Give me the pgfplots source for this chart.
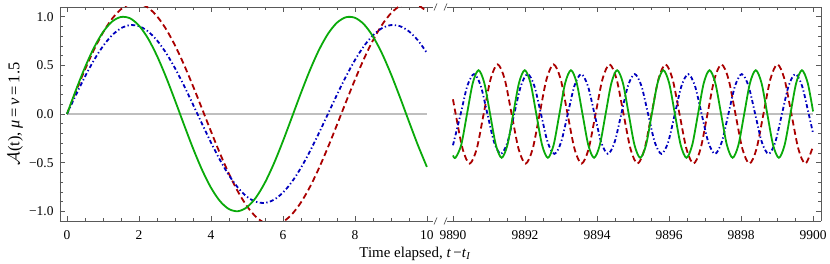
\documentclass[border=0pt]{standalone}
\usepackage{fontspec}
\setmainfont{Liberation Serif}
\usepackage{pgfplots}
\pgfplotsset{compat=1.18}
\definecolor{cR}{RGB}{170,0,0}
\definecolor{cB}{RGB}{0,0,190}
\definecolor{cG}{RGB}{10,170,10}
\pgfplotsset{
  brk/.style={
    scale only axis, height=214bp,
    ymin=-1.1, ymax=1.1,
    axis x line*=box,
    axis line style={-, black!65, line width=0.7bp},
    every outer x axis line/.append style={-},
    every outer y axis line/.append style={-},
    every inner x axis line/.append style={-},
    every inner y axis line/.append style={-},
    tick align=inside,
    tick style={black!65, line width=0.6bp},
    major tick length=5bp, minor tick length=3bp,
    minor x tick num=3, minor y tick num=4,
    ytick={-1,-0.5,0,0.5,1},
    tick label style={font=\fontsize{13.5}{15}\selectfont},
    label style={font=\fontsize{15}{17}\selectfont},
    xticklabel style={yshift=-6bp},
  },
  gline/.style={cG, line width=1.8bp, smooth},
  rline/.style={cR, line width=1.8bp, smooth, dash pattern=on 6bp off 3.5bp},
  bline/.style={cB, line width=1.8bp, smooth, dash pattern=on 4bp off 2.5bp on 1.3bp off 2.5bp},
  zline/.style={black!25, line width=1.2bp},
}
\begin{document}
\begin{tikzpicture}
\begin{axis}[brk, name=L, at={(0bp,0bp)}, anchor=south west, width=373bp,
  xmin=-0.194, xmax=10.17, axis y line*=left,
  xtick={0,2,4,6,8,10}, xticklabels={0,2,4,6,8,10},
  yticklabels={−1.0,−0.5,0.0,0.5,1.0}, yticklabel style={xshift=-3bp},
  ylabel={$\mathcal{A}$(t), \textit{μ}\,=\,\textit{ν}\,=\,1.5},
  ylabel style={at={(axis description cs:-0.12,0.5)}, anchor=center, font=\fontsize{16.5}{18}\selectfont},
  xlabel={Time elapsed, \textit{t}\,−\textit{t}\textsubscript{\textit{I}}},
  xlabel style={at={(axis description cs:0.952,-0.172)}, anchor=base},
]
\addplot[zline] coordinates {(0,0) (10,0)};
\addplot[rline] coordinates {(0,0) (0.25,0.2334) (0.5,0.4568) (0.75,0.6609) (1,0.8370) (1.25,0.9777) (1.5,1.0769) (1.75,1.1307) (2,1.1365) (2.25,1.0942) (2.5,1.0056) (2.75,0.8744) (3,0.7062) (3.25,0.5081) (3.5,0.2884) (3.75,0.0566) (4,-0.1776) (4.25,-0.4044) (4.5,-0.6140) (4.75,-0.7976) (5,-0.9474) (5.25,-1.0571) (5.5,-1.1221) (5.75,-1.1395) (6,-1.1088) (6.25,-1.0310) (6.5,-0.9097) (6.75,-0.7498) (7,-0.5581) (7.25,-0.3429) (7.5,-0.1131) (7.75,0.1215) (8,0.3509) (8.25,0.5655) (8.5,0.7561) (8.75,0.9147) (9,1.0346) (9.25,1.1107) (9.5,1.1397) (9.75,1.1206) (10,1.0539)};
\addplot[bline] coordinates {(0,0) (0.25,0.1967) (0.5,0.3842) (0.75,0.5537) (1,0.6974) (1.25,0.8084) (1.5,0.8817) (1.75,0.9136) (2,0.9029) (2.25,0.8500) (2.5,0.7573) (2.75,0.6292) (3,0.4718) (3.25,0.2921) (3.5,0.0989) (3.75,-0.0989) (4,-0.2921) (4.25,-0.4718) (4.5,-0.6292) (4.75,-0.7573) (5,-0.8500) (5.25,-0.9029) (5.5,-0.9136) (5.75,-0.8817) (6,-0.8084) (6.25,-0.6974) (6.5,-0.5537) (6.75,-0.3842) (7,-0.1967) (7.25,0) (7.5,0.1967) (7.75,0.3842) (8,0.5537) (8.25,0.6974) (8.5,0.8084) (8.75,0.8817) (9,0.9136) (9.25,0.9029) (9.5,0.8500) (9.75,0.7573) (10,0.6292)};
\addplot[gline] coordinates {(0,0) (0.25,0.2474) (0.5,0.4794) (0.75,0.6816) (1,0.8415) (1.25,0.9490) (1.5,0.9975) (1.75,0.9840) (2,0.9093) (2.25,0.7781) (2.5,0.5985) (2.75,0.3817) (3,0.1411) (3.25,-0.1082) (3.5,-0.3508) (3.75,-0.5716) (4,-0.7568) (4.25,-0.8950) (4.5,-0.9775) (4.75,-0.9993) (5,-0.9589) (5.25,-0.8589) (5.5,-0.7055) (5.75,-0.5083) (6,-0.2794) (6.25,-0.0332) (6.5,0.2151) (6.75,0.4500) (7,0.6570) (7.25,0.8231) (7.5,0.9380) (7.75,0.9946) (8,0.9894) (8.25,0.9228) (8.5,0.7985) (8.75,0.6247) (9,0.4121) (9.25,0.1743) (9.5,-0.0752) (9.75,-0.3195) (10,-0.5440)};
\end{axis}
\begin{axis}[brk, name=R, at={(386.5bp,0bp)}, anchor=south west, width=374.5bp,
  xmin=-0.18, xmax=10.22, axis y line*=right,
  xtick={0,2,4,6,8,10}, xticklabels={9890,9892,9894,9896,9898,9900},
  yticklabels={},
]
\addplot[zline] coordinates {(0,0) (10,0)};
\addplot[rline] coordinates {(0,0.151) (0.0745,0) (0.2688,-0.3606) (0.4630,-0.51) (0.6573,-0.3606) (0.8515,0) (1.0458,0.3606) (1.2400,0.51) (1.4343,0.3606) (1.6285,0) (1.8228,-0.3606) (2.0170,-0.51) (2.2113,-0.3606) (2.4055,0) (2.5998,0.3606) (2.7940,0.51) (2.9883,0.3606) (3.1825,0) (3.3768,-0.3606) (3.5710,-0.51) (3.7653,-0.3606) (3.9595,0) (4.1538,0.3606) (4.3480,0.51) (4.5423,0.3606) (4.7365,0) (4.9308,-0.3606) (5.1250,-0.51) (5.3193,-0.3606) (5.5135,0) (5.7078,0.3606) (5.9020,0.51) (6.0963,0.3606) (6.2905,0) (6.4848,-0.3606) (6.6790,-0.51) (6.8733,-0.3606) (7.0675,0) (7.2618,0.3606) (7.4560,0.51) (7.6503,0.3606) (7.8445,0) (8.0388,-0.3606) (8.2330,-0.51) (8.4273,-0.3606) (8.6215,0) (8.8158,0.3606) (9.0100,0.51) (9.2043,0.3606) (9.3985,0) (9.5928,-0.3606) (9.7870,-0.51) (10,-0.3315)};
\addplot[bline] coordinates {(0,-0.3214) (0.2133,0) (0.3991,0.2899) (0.5850,0.41) (0.7709,0.2899) (0.9568,0) (1.1426,-0.2899) (1.3285,-0.41) (1.5144,-0.2899) (1.7003,0) (1.8861,0.2899) (2.0720,0.41) (2.2579,0.2899) (2.4438,0) (2.6296,-0.2899) (2.8155,-0.41) (3.0014,-0.2899) (3.1873,0) (3.3731,0.2899) (3.5590,0.41) (3.7449,0.2899) (3.9308,0) (4.1166,-0.2899) (4.3025,-0.41) (4.4884,-0.2899) (4.6743,0) (4.8601,0.2899) (5.0460,0.41) (5.2319,0.2899) (5.4178,0) (5.6036,-0.2899) (5.7895,-0.41) (5.9754,-0.2899) (6.1613,0) (6.3471,0.2899) (6.5330,0.41) (6.7189,0.2899) (6.9048,0) (7.0906,-0.2899) (7.2765,-0.41) (7.4624,-0.2899) (7.6483,0) (7.8341,0.2899) (8.0200,0.41) (8.2059,0.2899) (8.3918,0) (8.5776,-0.2899) (8.7635,-0.41) (8.9494,-0.2899) (9.1353,0) (9.3211,0.2899) (9.5070,0.41) (9.6929,0.2899) (9.8788,0) (10,-0.2007)};
\addplot[gline] coordinates {(0,-0.426) (0.0685,-0.45) (0.2289,-0.3182) (0.3893,0) (0.5496,0.3182) (0.71,0.45) (0.8704,0.3182) (1.0308,0) (1.1911,-0.3182) (1.3515,-0.45) (1.5119,-0.3182) (1.6723,0) (1.8326,0.3182) (1.9930,0.45) (2.1534,0.3182) (2.3138,0) (2.4741,-0.3182) (2.6345,-0.45) (2.7949,-0.3182) (2.9553,0) (3.1156,0.3182) (3.2760,0.45) (3.4364,0.3182) (3.5968,0) (3.7571,-0.3182) (3.9175,-0.45) (4.0779,-0.3182) (4.2383,0) (4.3986,0.3182) (4.5590,0.45) (4.7194,0.3182) (4.8798,0) (5.0401,-0.3182) (5.2005,-0.45) (5.3609,-0.3182) (5.5213,0) (5.6816,0.3182) (5.8420,0.45) (6.0024,0.3182) (6.1628,0) (6.3231,-0.3182) (6.4835,-0.45) (6.6439,-0.3182) (6.8043,0) (6.9646,0.3182) (7.1250,0.45) (7.2854,0.3182) (7.4458,0) (7.6061,-0.3182) (7.7665,-0.45) (7.9269,-0.3182) (8.0873,0) (8.2476,0.3182) (8.4080,0.45) (8.5684,0.3182) (8.7288,0) (8.8891,-0.3182) (9.0495,-0.45) (9.2099,-0.3182) (9.3703,0) (9.5306,0.3182) (9.6910,0.45) (9.8514,0.3182) (10,0.026)};
\end{axis}
\draw[black!65, line width=0.7bp] (374bp,-3.5bp) -- (377bp,3.5bp);
\draw[black!65, line width=0.7bp] (384bp,-3.5bp) -- (387bp,3.5bp);
\draw[black!65, line width=0.7bp] (374bp,210.5bp) -- (377bp,217.5bp);
\draw[black!65, line width=0.7bp] (384bp,210.5bp) -- (387bp,217.5bp);
\pgfresetboundingbox
\path (-60bp,-43bp) rectangle (770bp,221bp);
\end{tikzpicture}
\end{document}
